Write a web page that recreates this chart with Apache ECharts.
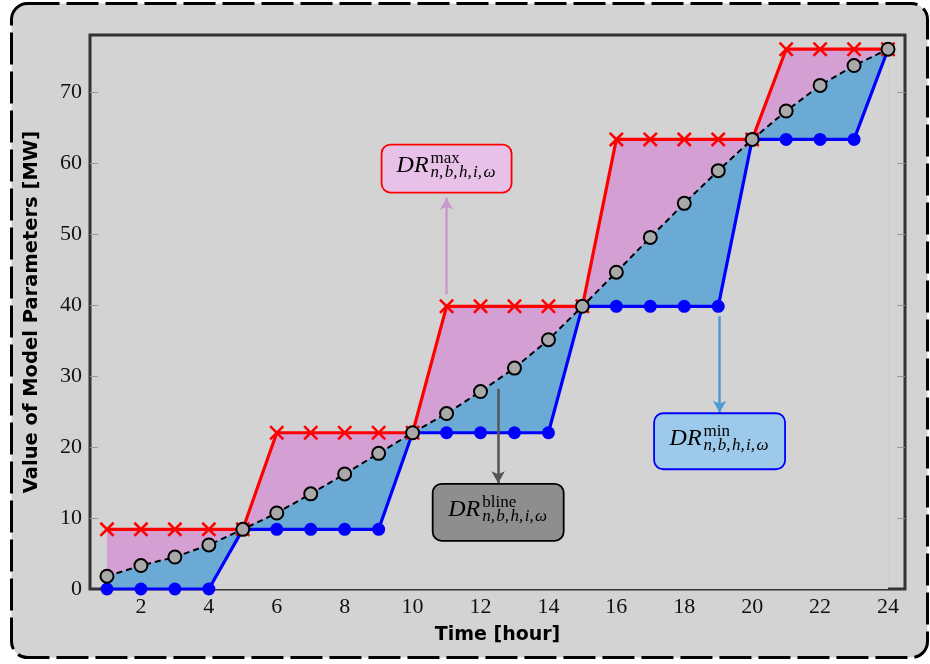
<!DOCTYPE html>
<html><head><meta charset="utf-8">
<script src="https://cdn.jsdelivr.net/npm/echarts@6/dist/echarts.min.js"></script>
<style>html,body{margin:0;padding:0;background:#fff}#c{width:930px;height:664px}</style>
</head><body><div id="c"></div>
<script>
const hours = [1,2,3,4,5,6,7,8,9,10,11,12,13,14,15,16,17,18,19,20,21,22,23,24];
const drMax = [8.4,8.4,8.4,8.4,8.4,22,22,22,22,22,39.8,39.8,39.8,39.8,39.8,63.3,63.3,63.3,63.3,63.3,76,76,76,76];
const drMin = [0,0,0,0,8.4,8.4,8.4,8.4,8.4,22,22,22,22,22,39.8,39.8,39.8,39.8,39.8,63.3,63.3,63.3,63.3,76];
const drBline = [1.8,3.3,4.5,6.2,8.4,10.7,13.4,16.2,19.1,22,24.7,27.8,31.1,35.1,39.8,44.6,49.5,54.3,58.9,63.3,67.3,70.9,73.7,76];
const xTicks = [2,4,6,8,10,12,14,16,18,20,22,24];
const yTicks = [0,10,20,30,40,50,60,70];
const yTickMarks = [10,20,30,40,50,60,70];

// annotation anchors (data coordinates)
const arrowMax = [[11,41.5],[11,55.1]];
const arrowBline = [[12.52,28.2],[12.52,14.9]];
const arrowMin = [[19.04,38.4],[19.04,24.8]];
const boxMaxC = [11,59.2];
const boxBlineC = [12.52,10.8];
const boxMinC = [19.04,20.8];

const pair = (xs, ys) => xs.map((x,i)=>[x, ys[i]]);
const xPath = 'path://M0,12L12,0L50,38L88,0L100,12L62,50L100,88L88,100L50,62L12,100L0,88L38,50Z';

const chart = echarts.init(document.getElementById('c'), null, {renderer:'canvas'});
const bgRect = {id:'bg', type:'rect', z:-100, silent:true,
  shape:{x:11.5,y:3.5,width:916,height:654,r:16},
  style:{fill:'#d3d3d3', stroke:'#000', lineWidth:3, lineDash:[32,7]}};

const option = {
  animation:false,
  backgroundColor:'#fff',
  grid:{left:90, top:35, right:25, bottom:75, show:true, borderColor:'#333', borderWidth:3, backgroundColor:'transparent'},
  xAxis:{type:'value', min:0.5, max:24.5,
    name:'Time [hour]', nameLocation:'middle', nameGap:37,
    nameTextStyle:{fontFamily:'DejaVu Sans', fontWeight:'bold', fontSize:19, color:'#000'},
    axisLine:{show:false}, axisTick:{show:false}, splitLine:{show:false},
    axisLabel:{customValues:xTicks, fontFamily:'Liberation Serif', fontSize:22, color:'#111', margin:7}},
  yAxis:[{type:'value', min:0, max:78, interval:10,
    name:'Value of Model Parameters [MW]', nameLocation:'middle', nameGap:48,
    nameTextStyle:{fontFamily:'DejaVu Sans', fontWeight:'bold', fontSize:19.5, color:'#000'},
    axisLine:{show:false}, splitLine:{show:false},
    axisTick:{show:true, inside:true, length:8, lineStyle:{color:'#999', width:1}, customValues:yTickMarks},
    axisLabel:{customValues:yTicks, fontFamily:'Liberation Serif', fontSize:22, color:'#111', margin:8}},
   {type:'value', min:0, max:78, interval:10, position:'right',
    axisLine:{show:false, onZero:false}, splitLine:{show:false}, axisLabel:{show:false},
    axisTick:{show:true, inside:true, length:8, lineStyle:{color:'#999', width:1}, customValues:yTickMarks}}],
  series:[
    {name:'maxFill', type:'line', data:pair(hours, drMax), showSymbol:false, symbol:'none',
      lineStyle:{width:0}, areaStyle:{color:'#d4a0d4', opacity:1, origin:'start'}, z:1, silent:true},
    {name:'blineFill', type:'line', data:pair(hours, drBline), showSymbol:false, symbol:'none',
      lineStyle:{width:0}, areaStyle:{color:'#6baad4', opacity:1, origin:'start'}, z:1, silent:true},
    {name:'minFill', type:'line', data:pair(hours, drMin), showSymbol:false, symbol:'none',
      lineStyle:{width:0}, areaStyle:{color:'#d3d3d3', opacity:1, origin:'start'}, z:1, silent:true},
    {name:'max', type:'line', data:pair(hours, drMax), symbol:xPath, symbolSize:15,
      lineStyle:{color:'#ff0000', width:3.2}, itemStyle:{color:'#ff0000'}, z:3},
    {name:'min', type:'line', data:pair(hours, drMin), symbol:'circle', symbolSize:13,
      lineStyle:{color:'#0000ff', width:3.2}, itemStyle:{color:'#0000ff', borderWidth:0}, z:4},
    {name:'bline', type:'line', data:pair(hours, drBline), symbol:'circle', symbolSize:13,
      lineStyle:{color:'#000', width:2, type:[6,4]}, itemStyle:{color:'#a9a9a9', borderColor:'#000', borderWidth:2}, z:5,
      markLine:{silent:true, animation:false, symbol:['none','arrow'], symbolSize:[10,12], label:{show:false},
        data:[
          [{coord:arrowMax[0], lineStyle:{color:'#cc99cc', width:2.5, type:'solid'}}, {coord:arrowMax[1]}],
          [{coord:arrowBline[0], lineStyle:{color:'#555555', width:2.5, type:'solid'}}, {coord:arrowBline[1]}],
          [{coord:arrowMin[0], lineStyle:{color:'#4a9bd4', width:2.5, type:'solid'}}, {coord:arrowMin[1]}]
        ]}}
  ]
};
chart.setOption(option);

const SUB = 'n,\u200Ab,\u200Ah,\u200Ai,\u200A\u03C9';
function box(id, c, w, h, fill, stroke, sup){
  const p = chart.convertToPixel({xAxisIndex:0, yAxisIndex:0}, c);
  const cx = p[0], cy = p[1];
  return [
    {id:id+'_r', type:'rect', z:100, silent:true, shape:{x:cx-w/2, y:cy-h/2, width:w, height:h, r:9}, style:{fill:fill, stroke:stroke, lineWidth:1.8}},
    {id:id+'_d', type:'text', z:101, silent:true, style:{x:cx-50, y:cy-3, text:'DR', font:'italic 24px "Liberation Serif"', fill:'#000', verticalAlign:'middle', align:'left'}},
    {id:id+'_p', type:'text', z:101, silent:true, style:{x:cx-16, y:cy-10, text:sup, font:'17px "Liberation Serif"', fill:'#000', verticalAlign:'middle', align:'left'}},
    {id:id+'_s', type:'text', z:101, silent:true, style:{x:cx-16, y:cy+4, text:SUB, font:'italic 17px "Liberation Serif"', fill:'#000', verticalAlign:'middle', align:'left'}}
  ];
}
const gr = [bgRect].concat(
  box('bmax', boxMaxC, 130, 48, '#e8c1e8', '#ff0000', 'max'),
  box('bbline', boxBlineC, 131, 57, '#8e8e8e', '#000000', 'bline'),
  box('bmin', boxMinC, 131, 56, '#9dc9ea', '#0000ff', 'min'));
chart.setOption({graphic:gr});
</script></body></html>
